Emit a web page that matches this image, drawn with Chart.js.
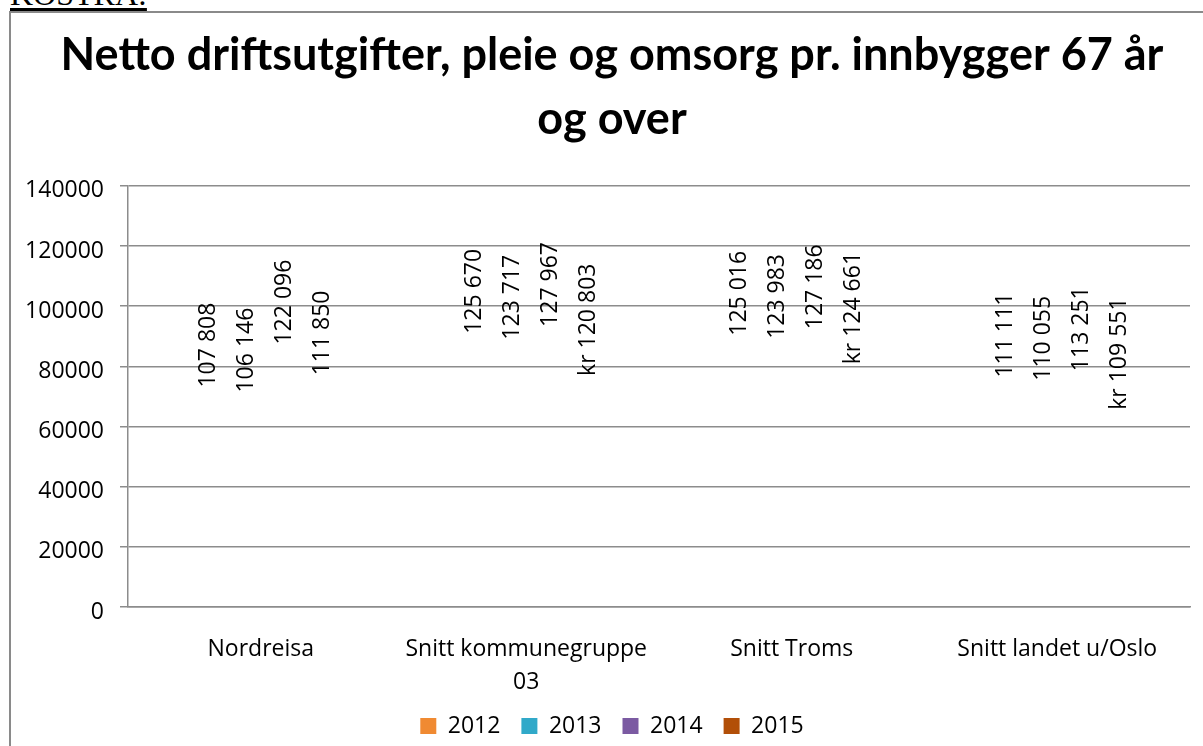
<!DOCTYPE html>
<html>
<head>
<meta charset="utf-8">
<script src="https://cdn.jsdelivr.net/npm/chart.js@4"></script>
<style>
  html, body { margin: 0; padding: 0; background: #fff; overflow: hidden; width: 1203px; height: 746px; }
  #frame { position: absolute; left: 9px; top: 11px; width: 1260px; height: 800px; border: 2px solid #8a8a8a; box-sizing: border-box; }
  #kostra { position: absolute; left: 10px; top: -22px; font-family: "Liberation Serif", serif; font-size: 32px; line-height: 32px; text-decoration: underline; text-underline-offset: 3px; color: #000; }
  #c { position: absolute; left: 0; top: 0; }
</style>
</head>
<body>
<div id="kostra">KOSTRA:</div>
<div id="frame"></div>
<canvas id="c" width="1220" height="746"></canvas>
<script>
const categories = [["Nordreisa"], ["Snitt kommunegruppe", "03"], ["Snitt Troms"], ["Snitt landet u/Oslo"]];
const years = ["2012", "2013", "2014", "2015"];
const values2012 = [107808, 125670, 125016, 111111];
const values2013 = [106146, 123717, 123983, 110055];
const values2014 = [122096, 127967, 127186, 113251];
const values2015 = [111850, 120803, 124661, 109551];
// "kr " foran 2015-tallene, unntatt Nordreisa
const prefix2015 = ["", "kr ", "kr ", "kr "];
const yMin = 0, yMax = 140000, yStep = 20000;
const colors = ["#f08a32", "#31a9c9", "#7b5aa2", "#b24f08"];

const seriesValues = [values2012, values2013, values2014, values2015];
const gridColor = "#8c8c8c";
const baseFont = "'Open Sans', sans-serif";

function fmt(n) {
  return String(n).replace(/\B(?=(\d{3})+(?!\d))/g, " ");
}

// etiketter rotert -90 grader, inne i toppen av (usynlige) stolper
const barLabels = {
  id: "barLabels",
  afterLayout(chart) {
    // ikke klipp andre linje av kategoritekst
    chart.scales.x.bottom = chart.height;
  },
  afterDatasetsDraw(chart) {
    const ctx = chart.ctx;
    ctx.save();
    ctx.font = "23px " + baseFont;
    ctx.fillStyle = "#000";
    ctx.textAlign = "right";
    ctx.textBaseline = "middle";
    chart.data.datasets.forEach((ds, di) => {
      const meta = chart.getDatasetMeta(di);
      meta.data.forEach((bar, i) => {
        const pre = di === 3 ? prefix2015[i] : "";
        ctx.save();
        ctx.translate(bar.x + 5, bar.y + 20);
        ctx.rotate(-Math.PI / 2);
        ctx.fillText(pre + fmt(ds.data[i]), 0, 0);
        ctx.restore();
      });
    });
    ctx.restore();
  }
};

new Chart(document.getElementById("c"), {
  type: "bar",
  data: {
    labels: categories,
    datasets: years.map((y, i) => ({
      label: y,
      data: seriesValues[i],
      backgroundColor: "rgba(0,0,0,0)",
      borderWidth: 0,
      categoryPercentage: 0.5725,
      barPercentage: 1
    }))
  },
  options: {
    responsive: false,
    animation: false,
    layout: { padding: { left: 10, right: 6, top: 0, bottom: 0 } },
    plugins: {
      tooltip: { enabled: false },
      title: {
        display: true,
        text: ["Netto driftsutgifter, pleie og omsorg pr. innbygger 67 år", "og over"],
        color: "#000",
        font: { family: "Lato, sans-serif", size: 45, weight: "bold", lineHeight: 1.42 },
        padding: { top: 24, bottom: 34 }
      },
      legend: {
        position: "bottom",
        maxHeight: 52.5,
        labels: {
          color: "#000",
          font: { family: baseFont, size: 23, lineHeight: 1 },
          boxWidth: 16,
          boxHeight: 16,
          padding: 21,
          generateLabels: () => years.map((y, i) => ({
            text: y,
            fillStyle: colors[i],
            strokeStyle: colors[i],
            lineWidth: 0,
            hidden: false,
            datasetIndex: i
          }))
        }
      }
    },
    scales: {
      x: {
        grid: { display: false, drawTicks: false },
        border: { display: true, color: gridColor, width: 1.5 },
        ticks: { color: "#000", font: { family: baseFont, size: 23, lineHeight: 1.43 }, padding: 26, maxRotation: 0 },
        afterFit(s) { s.height = 86.5; }
      },
      y: {
        min: yMin,
        max: yMax,
        grid: { color: gridColor, lineWidth: 1.5, tickLength: 8 },
        border: { display: true, color: gridColor, width: 1.5 },
        ticks: {
          stepSize: yStep,
          color: "#000",
          font: { family: baseFont, size: 23 },
          padding: 16,
          labelOffset: 5,
          callback: (v) => String(v)
        },
        afterFit(s) { s.width = 118; }
      },
      y2: {
        position: "right",
        grid: { display: false },
        border: { display: false },
        ticks: { display: false },
        afterFit(s) { s.width = 24; }
      }
    }
  },
  plugins: [barLabels]
});
</script>
</body>
</html>
